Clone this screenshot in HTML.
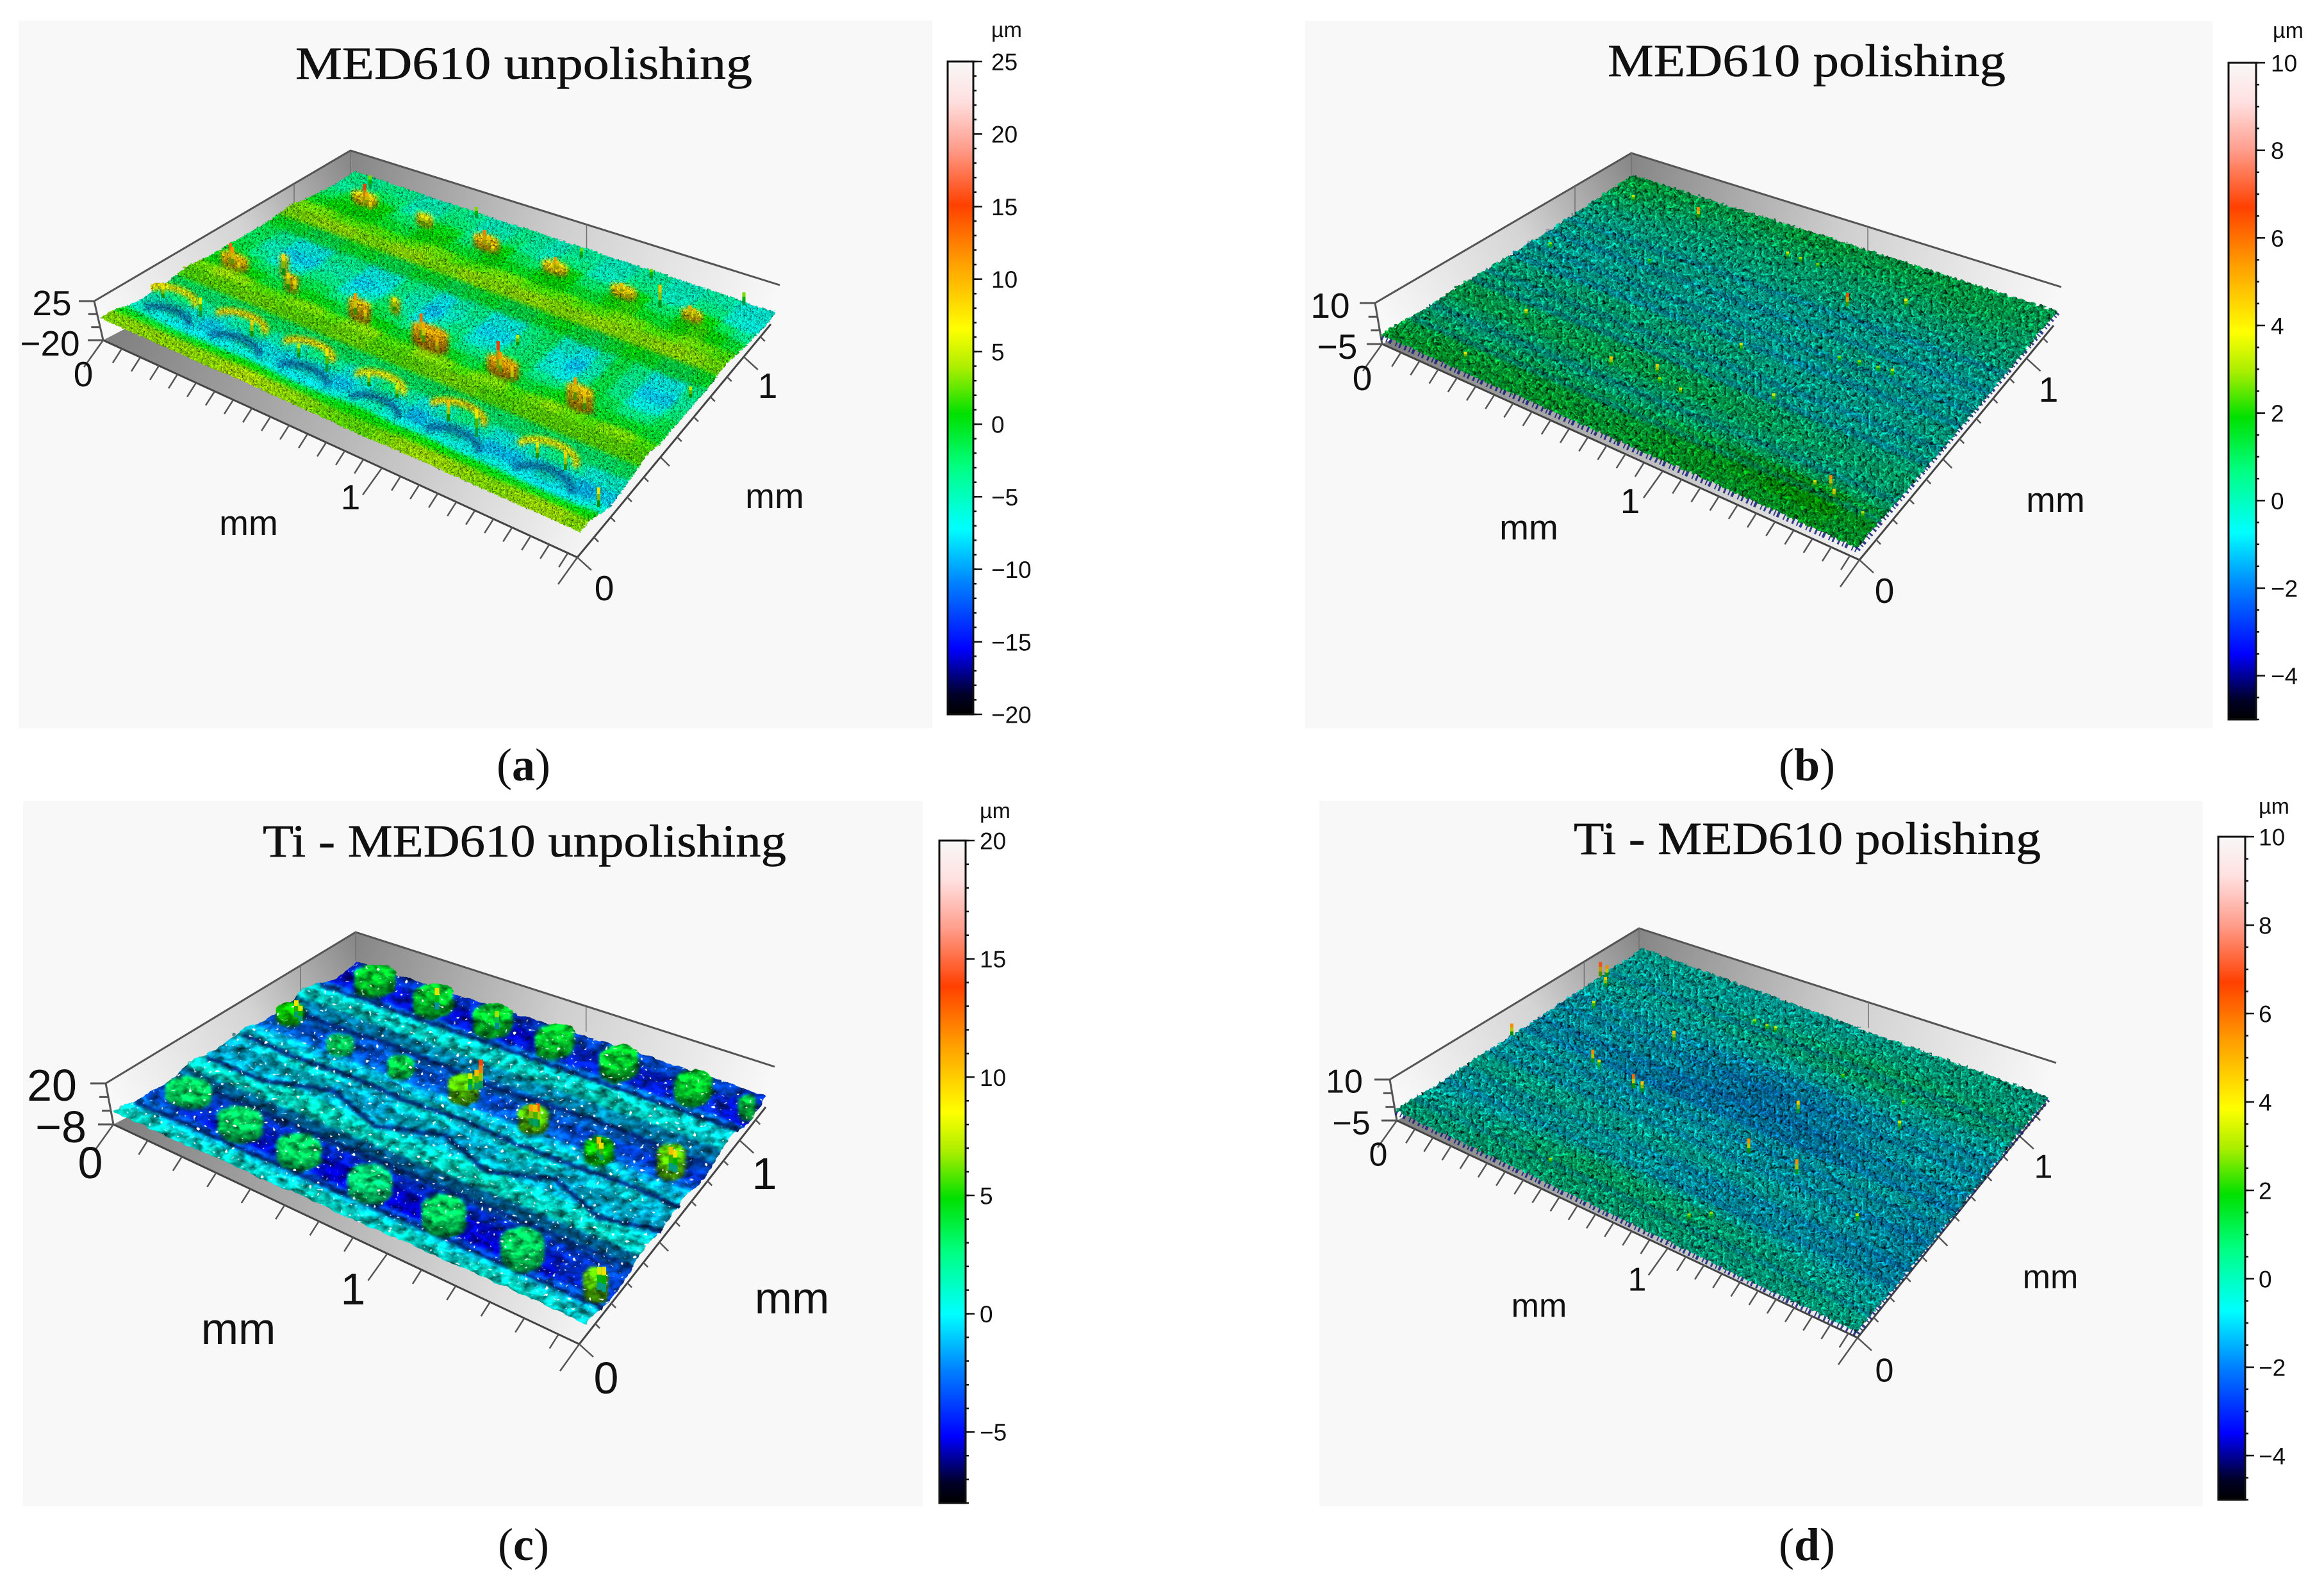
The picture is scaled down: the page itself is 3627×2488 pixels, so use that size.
<!DOCTYPE html>
<html lang="en">
<head>
<meta charset="utf-8">
<title>Surface topography of MED610 and Ti - MED610</title>
<style>
html,body{margin:0;padding:0;background:#fff;}
svg{display:block;}
text{font-family:"Liberation Sans",sans-serif;fill:#111;}
.serif{font-family:"Liberation Serif",serif;}
.ttl{stroke:#111;stroke-width:.6;}
</style>
</head>
<body>
<svg id="chart" width="3627" height="2488" viewBox="0 0 3627 2488">
<defs id="defs">
  <filter id="tex-a" filterUnits="userSpaceOnUse" x="100" y="200" width="1200" height="720" color-interpolation-filters="sRGB">
    <feGaussianBlur in="SourceGraphic" stdDeviation="3.5" result="soft"/>
    <feMerge result="base"><feMergeNode in="SourceGraphic"/><feMergeNode in="soft"/></feMerge>
    <feTurbulence type="fractalNoise" baseFrequency="0.3 0.36" numOctaves="2" seed="4" result="n"/>
    <feColorMatrix in="n" type="matrix" values="1 0 0 0 0 1 0 0 0 0 1 0 0 0 0 0 0 0 0 1" result="g"/>
    <feComposite in="base" in2="g" operator="arithmetic" k1="2.2" k2="-0.1" k3="0" k4="0" result="c"/>
    <feComposite in="c" in2="SourceAlpha" operator="in" result="d"/>
    <feDisplacementMap in="d" in2="n" scale="6" xChannelSelector="R" yChannelSelector="G"/>
  </filter>
  <filter id="tex-b" filterUnits="userSpaceOnUse" x="2100" y="200" width="1200" height="720" color-interpolation-filters="sRGB">
    <feGaussianBlur in="SourceGraphic" stdDeviation="3" result="soft"/>
    <feMerge result="base"><feMergeNode in="SourceGraphic"/><feMergeNode in="soft"/></feMerge>
    <feTurbulence type="fractalNoise" baseFrequency="0.18 0.2" numOctaves="2" seed="9" result="n"/>
    <feColorMatrix in="n" type="matrix" values="1 0 0 0 0 1 0 0 0 0 1 0 0 0 0 0 0 0 0 1" result="g"/>
    <feComposite in="base" in2="g" operator="arithmetic" k1="3" k2="-0.5" k3="0" k4="0" result="c"/>
    <feComposite in="c" in2="SourceAlpha" operator="in" result="d"/>
    <feDisplacementMap in="d" in2="n" scale="9" xChannelSelector="R" yChannelSelector="G"/>
  </filter>
  <filter id="tex-c" filterUnits="userSpaceOnUse" x="120" y="1420" width="1150" height="720" color-interpolation-filters="sRGB">
    <feGaussianBlur in="SourceGraphic" stdDeviation="2.5" result="soft"/>
    <feMerge result="base"><feMergeNode in="SourceGraphic"/><feMergeNode in="soft"/></feMerge>
    <feTurbulence type="fractalNoise" baseFrequency="0.06 0.09" numOctaves="3" seed="7" result="n"/>
    <feColorMatrix in="n" type="matrix" values="1 0 0 0 0 1 0 0 0 0 1 0 0 0 0 0 0 0 0 1" result="g"/>
    <feComposite in="base" in2="g" operator="arithmetic" k1="1.8" k2="0.1" k3="0" k4="0" result="c"/>
    <feTurbulence type="fractalNoise" baseFrequency="0.16 0.2" numOctaves="1" seed="21" result="n2"/>
    <feColorMatrix in="n2" type="matrix" values="0 0 0 0 1 0 0 0 0 1 0 0 0 0 1 14 0 0 0 -9.4" result="sparkle"/>
    <feMerge result="mix"><feMergeNode in="c"/><feMergeNode in="sparkle"/></feMerge>
    <feComposite in="mix" in2="SourceAlpha" operator="in" result="d"/>
    <feDisplacementMap in="d" in2="n" scale="6" xChannelSelector="R" yChannelSelector="G"/>
  </filter>
  <filter id="tex-d" filterUnits="userSpaceOnUse" x="2120" y="1420" width="1150" height="720" color-interpolation-filters="sRGB">
    <feGaussianBlur in="SourceGraphic" stdDeviation="3" result="soft"/>
    <feMerge result="base"><feMergeNode in="SourceGraphic"/><feMergeNode in="soft"/></feMerge>
    <feTurbulence type="fractalNoise" baseFrequency="0.18 0.2" numOctaves="2" seed="13" result="n"/>
    <feColorMatrix in="n" type="matrix" values="1 0 0 0 0 1 0 0 0 0 1 0 0 0 0 0 0 0 0 1" result="g"/>
    <feComposite in="base" in2="g" operator="arithmetic" k1="3" k2="-0.5" k3="0" k4="0" result="c"/>
    <feComposite in="c" in2="SourceAlpha" operator="in" result="d"/>
    <feDisplacementMap in="d" in2="n" scale="9" xChannelSelector="R" yChannelSelector="G"/>
  </filter>
</defs>

<rect x="29" y="32" width="1426" height="1105" fill="#f8f8f8"/>
<rect x="2037" y="33" width="1416" height="1104" fill="#f8f8f8"/>
<rect x="36" y="1250" width="1404" height="1101" fill="#f8f8f8"/>
<rect x="2059" y="1250" width="1379" height="1101" fill="#f8f8f8"/>

<g id="panel-a"></g>
<g id="panel-b"></g>
<g id="panel-c"></g>
<g id="panel-d"></g>

<text class="serif ttl" x="461" y="123" font-size="72" textLength="713" lengthAdjust="spacingAndGlyphs">MED610 unpolishing</text>
<text class="serif ttl" x="2509" y="119" font-size="72" textLength="621" lengthAdjust="spacingAndGlyphs">MED610 polishing</text>
<text class="serif ttl" x="410" y="1337" font-size="72" textLength="817" lengthAdjust="spacingAndGlyphs">Ti - MED610 unpolishing</text>
<text class="serif ttl" x="2456" y="1333" font-size="72" textLength="729" lengthAdjust="spacingAndGlyphs">Ti - MED610 polishing</text>

<text class="serif" x="817" y="1218" font-size="72" text-anchor="middle">(<tspan font-weight="bold">a</tspan>)</text>
<text class="serif" x="2820" y="1218" font-size="72" text-anchor="middle">(<tspan font-weight="bold">b</tspan>)</text>
<text class="serif" x="817" y="2435" font-size="72" text-anchor="middle">(<tspan font-weight="bold">c</tspan>)</text>
<text class="serif" x="2820" y="2435" font-size="72" text-anchor="middle">(<tspan font-weight="bold">d</tspan>)</text>
</svg>

<script>
/* ---------- DATA: colour-bar ticks ---------- */
const panelAColorTicks=[25,20,15,10,5,0,-5,-10,-15,-20];
const panelBColorTicks=[10,8,6,4,2,0,-2,-4];
const panelCColorTicks=[20,15,10,5,0,-5];
const panelDColorTicks=[10,8,6,4,2,0,-2,-4];
const panelARange=[-20,25];
const panelBRange=[-5,10];
const panelCRange=[-8,20];
const panelDRange=[-5,10];
const panelAZLabels=[25,-20];
const panelBZLabels=[10,-5];
const panelCZLabels=[20,-8];
const panelDZLabels=[10,-5];
const xAxisLabels=[0,1];
const yAxisLabels=[0,1];

/* ---------- DATA: surface heights in µm, rows run from front-left edge to back-right edge ---------- */
const panelAHeights=[
[3,3,3,3,3,3,3,4,4,3,3,3,3,2,2,3,3,4,3,3,3,3,3,4,3,3],
[3,4,4,4,4,4,4,5,4,4,4,3,2,3,3,4,4,4,4,4,3,4,4,4,4,3],
[-3,-4,-5,-5,-4,-4,-3,-3,-4,-5,-4,-3,-1,-1,-3,-2,-2,-3,-3,-3,-3,-4,-4,-4,-3,-2],
[-7,-8,-9,-10,-10,-9,-9,-10,-10,-10,-10,-9,-8,-9,-10,-10,-10,-10,-10,-9,-10,-11,-11,-11,-10,-8],
[-5,-1,-1,-6,-7,-1,-2,-8,-3,-1,-6,-9,-1,-1,-7,-9,-2,-1,-7,-9,-7,-1,-1,-6,-9,-6],
[-4,-4,-5,-5,-5,-4,-4,-5,-5,-4,-5,-5,-4,-5,-5,-5,-4,-5,-5,-5,-4,-5,-5,-5,-5,-3],
[0,0,0,0,1,0,0,0,0,1,0,0,0,0,1,1,0,0,0,0,0,0,0,0,0,0],
[4,5,5,5,5,5,5,5,5,5,5,4,5,5,5,5,5,4,5,5,5,5,5,5,5,4],
[0,2,3,0,-1,0,2,0,-1,3,0,-1,1,3,-1,-1,3,0,-1,2,1,-1,0,2,0,-1],
[-1,0,0,-1,-2,0,-1,-1,-2,0,-1,0,-1,-1,-2,-1,0,-1,-2,0,-1,0,-1,-2,-1,-1],
[0,-1,-3,-5,-3,-1,-4,-6,-2,-1,-6,-6,-1,-4,-6,-3,-1,-4,-6,-5,-1,-1,-4,-6,-3,-1],
[-1,-3,-7,-9,-7,-2,-7,-9,-5,-2,-8,-9,-2,-6,-9,-6,-1,-4,-9,-8,-2,-1,-7,-9,-7,-1],
[-1,-3,-7,-10,-7,-2,-7,-10,-5,-2,-8,-10,-2,-7,-10,-6,-1,-4,-10,-8,-2,-1,-7,-10,-7,-1],
[-1,-2,-4,-6,-4,-1,-4,-6,-4,-1,-5,-6,-1,-4,-6,-4,-1,-2,-6,-5,-1,-1,-4,-6,-4,-1],
[1,1,2,2,2,1,2,2,2,1,2,2,1,2,2,2,1,2,2,2,1,2,2,2,2,1],
[5,5,5,5,5,4,5,5,5,4,5,5,5,5,5,5,5,5,5,5,5,5,5,5,4,4],
[0,1,0,-2,0,0,-2,0,1,0,-2,0,1,0,-2,0,0,-2,0,1,0,-2,0,1,0,0],
[-2,0,2,3,1,-3,1,3,0,-3,3,2,-3,1,4,1,-3,2,4,1,-3,2,4,2,0,-3],
[-4,-3,0,1,-2,-5,-3,0,-3,-5,-1,-1,-5,-3,0,-3,-5,-3,0,-3,-5,-3,0,-3,-6,-5],
[-4,-5,-5,-2,-6,-7,-5,-2,-6,-7,-5,-3,-7,-6,-3,-6,-7,-6,-3,-6,-7,-6,-3,-6,-8,-7],
[-2,-2,-3,-3,-3,-4,-3,-3,-4,-4,-3,-3,-4,-4,-3,-4,-4,-4,-3,-4,-4,-4,-4,-5,-6,-4]
];
const panelBHeights=[
[1.2,1.3,1.2,1.1,1.3,1.3,1.2,1.2,1.4,1.3,1.2,1.3,1.2,1.0],
[1.2,1.3,1.4,1.3,1.4,1.2,1.3,1.4,1.5,1.4,1.5,1.6,1.8,1.2],
[1.0,.9,1.1,1.0,1.2,1.1,1,1.2,1.3,1.5,1.7,1.9,1.7,1.0],
[.7,.5,.6,.8,.7,.6,.7,.9,1,1,1.1,1.2,1,.8],
[.5,.3,.2,.3,.4,.2,.3,.2,.3,.4,.3,.2,.3,.5],
[.9,.7,.8,.9,.8,.9,.8,.9,.8,.7,.6,.5,.5,.6],
[1.1,1,1.1,.9,1,1.1,1,1,.9,.8,.7,.6,.5,.6],
[.8,.6,.5,.6,.7,.6,.7,.6,.5,.4,.3,.2,.2,.4],
[.4,.2,.1,.2,.1,.2,.1,0,.1,-.1,-.1,0,0,.2],
[.5,.6,.7,.8,.7,.6,.5,.5,.3,.2,.1,.1,.2,.3],
[.3,.2,.1,.3,.2,.3,.4,.2,.1,0,.1,0,.1,.2],
[.1,-.1,.1,0,-.1,0,.1,-.1,-.2,-.1,0,-.1,0,.1],
[.3,.2,.1,.3,.3,.2,.1,.2,.3,.4,.5,.2,0,.1],
[0,-.2,-.1,0,-.1,-.1,-.2,-.1,0,0,-.1,-.2,-.2,0],
[.3,.1,.2,.3,.4,.3,.2,.1,.1,.2,.1,0,0,.1],
[.3,.1,.2,.1,0,.1,0,.1,0,-.1,0,.1,.2,.2],
[.2,.1,.2,.3,.3,.4,.5,.6,.5,.4,.3,.3,.4,.5],
[.6,.5,.4,.3,.4,.4,.3,.3,.4,.5,.6,.6,.5,.4],
[.9,.8,.7,.6,.5,.6,.7,.8,.7,.7,.8,.9,.8,.7],
[1.1,1,.9,.8,.9,1,1.1,1,.9,1,1,1,.9,.8],
[1.2,1.1,1.1,1,1,1.1,1.2,1.1,1,1.1,1,1,.9,.9]
];
const panelCHeights=[
[1,1,.5,1,1,.5,1,1,.5,1,1,.5,1,1,1,.5,.5],
[1,1.5,1,1,1.5,1,1,1.5,1,1,1.5,1,1,1.5,1,1,.5],
[-1,-1,-1.5,-1,-1,-1.5,-1,-1.5,-1,-1.5,-1,-1,-1.5,-1,-1,-1,-1],
[-2,-3,-3.5,-4,-4,-3.5,-4,-4,-4,-4,-4,-4,-4,-4,-4,-3,-3],
[-2,-3,-4,-4.5,-4.5,-4,-5,-5,-5,-5,-5,-5,-5,-5,-4,-3,-3],
[-2,-2.5,-3,-3,-3.5,-3.5,-4,-4,-3.5,-4,-4,-3.5,-3.5,-3.5,-3,-3,-2],
[-2,-3,-3,-3,-3,-3,-3,-3.5,-3,-3,-3,-3,-3,-3,-3,-3,-2],
[1,1,1,1,1,1,1,1,1,1,1,1,1,1,1,1,.5],
[1.5,1.5,1.5,1.5,2,2,1.5,1.5,1.5,1.5,2,2,1.5,1.5,1.5,1.5,1],
[0,.5,.5,1,1,.5,.5,.5,.5,1,1,.5,.5,.5,.5,.5,0],
[-1,-.5,-1,-.5,-.5,-1,-1,-.5,-1,-1,-.5,-.5,-1,-.5,-1,-.5,-1],
[0,.5,1,1.5,.5,0,.5,1.5,.5,0,1,1.5,.5,0,1,.5,0],
[-.5,0,.5,1,0,-.5,0,1,0,-.5,.5,1,0,-.5,.5,0,-.5],
[1,1,.5,.5,1,1,.5,.5,1,1,.5,.5,1,1,.5,.5,.5],
[-1.5,-1,-1.5,-1.5,-1,-1.5,-1.5,-1,-1.5,-1.5,-1,-1.5,-1.5,-1,-1.5,-1.5,-1],
[-2.5,-2.5,-3,-2.5,-3,-2.5,-3,-2.5,-3,-3,-2.5,-3,-3,-3,-3,-3.5,-3],
[-2.5,-2,-2,-2.5,-2,-2,-2.5,-2,-2,-2.5,-2,-2,-2.5,-2.5,-3,-3,-3],
[-2,-1.5,-1.5,-2,-2,-1,-1.5,-2,-1,-1,-1.5,-1.5,-1,-1.5,-2,-2,-2],
[.5,.5,.5,.5,.5,1,.5,.5,1,.5,.5,.5,.5,.5,.5,.5,0],
[1.5,1.5,1.5,1.5,1.5,1.5,1.5,1.5,1.5,1.5,1.5,2,2,1.5,1.5,1,1],
[0,0,.5,0,0,.5,0,0,.5,0,0,.5,0,0,.5,0,0],
[-3,-3,-3.5,-3.5,-3,-3,-3.5,-3,-3,-3,-3,-3,-3,-3,-3,-3,-4],
[-5,-4.5,-4.5,-4.5,-5,-4.5,-4.5,-5,-4.5,-4.5,-4,-4.5,-4.5,-4.5,-4,-4,-5],
[-4,-4,-3.5,-3.5,-4,-3.5,-4,-4,-3.5,-3,-3,-3,-3,-3,-3,-3,-4],
[-3,-3,-2.5,-2.5,-3,-2.5,-3,-2.5,-2,-2.5,-2,-2,-2,-2,-2,-2.5,-3]
];
const panelDHeights=[
[.6,.5,.6,.5,.7,.6,.5,.6,.5,.4,.3,.4,.5,.4],
[.7,.6,.8,.9,1,.9,.8,.8,.7,.6,.6,.6,.5,.4],
[.3,.4,.6,.9,1.1,1.1,.9,1,.9,.7,.5,.4,.2,.1],
[-.1,0,.1,.4,.8,.9,.8,.7,.6,.4,.3,.2,0,-.1],
[-.3,-.2,-.2,-.1,0,.1,-.1,-.2,-.2,-.3,-.3,-.4,-.4,-.5],
[.1,.2,.1,.2,0,-.1,-.4,-.7,-.6,-.5,-.4,-.5,-.6,-.6],
[.4,.5,.5,.4,.3,.3,.2,.1,.1,0,-.2,-.3,-.5,-.5],
[.2,.3,.2,.2,.1,.1,.2,.1,.1,0,0,-.2,-.4,-.4],
[-.3,-.2,-.2,-.3,-.3,-.2,-.2,-.3,-.4,-.5,-.5,-.6,-.8,-.8],
[0,.1,0,-.1,-.1,-.2,-.1,-.2,-.2,-.1,0,.1,0,-.3],
[-.2,-.2,-.3,-.4,-.5,-.5,-.4,-.4,-.5,-.4,-.3,-.2,-.3,-.5],
[-.5,-.6,-.7,-.8,-.9,-1,-.9,-.9,-.9,-.8,-.7,-.6,-.7,-.7],
[-.1,-.2,-.2,-.3,-.4,-.6,-.7,-.7,-.6,-.5,-.2,0,.1,-.1],
[-.4,-.3,-.3,-.4,-.6,-.8,-1,-1,-.8,-.6,-.4,-.3,-.4,-.5],
[-.1,0,0,-.1,-.2,-.4,-.5,-.6,-.5,-.3,-.1,-.1,-.1,-.2],
[-.2,-.3,-.2,-.2,-.3,-.2,-.3,-.3,-.2,-.1,-.1,-.2,-.2,-.3],
[.2,.1,.1,.1,.2,.3,.4,.5,.6,.5,.4,.3,.3,.2],
[.3,.2,.2,.3,.5,.7,.9,1,1.2,1.2,1.1,1,.9,.7],
[0,-.1,0,.1,.2,.4,.5,.7,.9,.8,.7,.6,.6,.5],
[0,0,.1,0,-.1,0,.1,.2,.3,.4,.4,.5,.4,.3],
[.4,.3,.3,.2,.1,.2,.1,.2,.3,.4,.5,.6,.5,.5]
];

/* ---------- DATA: faint scan stripes seen on the polished surfaces (position across the scan) ---------- */
const panelBStripeY=[.12,.2,.36,.42,.52,.58,.66,.74];
const panelDStripeY=[.08,.2,.27,.38,.45,.52,.58,.66,.72,.86];

/* ---------- DATA: isolated peaks (position along the two axes as a fraction of the scan, height in µm) ---------- */
const panelAPeakX=[.045,.05,.075,.175,.195,.32,.35,.46,.47,.51,.63,.64,.675,.80,.83,
.135,.37,.095,.10,.105,.125,.235,.245,.38,.39,.41,.545,.55,.70,.72,.86,.87,.785,
.0,.06,.3,.56,.72,.93,.985,.99,.45,.62,.03,.11,.22,.32,.38,.47,.53,.64,.70,.83,.89];
const panelAPeakY=[.43,.43,.41,.425,.415,.43,.415,.44,.43,.41,.44,.43,.41,.44,.42,
.48,.5,.88,.87,.87,.85,.87,.87,.87,.87,.85,.87,.87,.87,.86,.87,.87,.88,
.33,.96,.98,.96,.97,.99,.6,.12,.7,.55,.19,.19,.19,.19,.19,.19,.19,.19,.19,.19,.19];
const panelAPeakZ=[13,11,8,8,8,11,9,13,10,10,15,11,9,11,9,
8,7,9,15,10,8,7,6,12,9,7,11,9,9,8,10,9,9,
5,3,3,3,3,3,5,7,4,5,7,6,8,5,7,6,6,9,7,7,8];
const panelBPeakX=[.62,.2,.06,.525,.43,.46,.5,.7,.74,.78,.81,.15,.36,.15,.51,.46,.44,.66,.9,.855,.88,.97,.72,.04,.22];
const panelBPeakY=[.78,.92,.9,.49,.88,.88,.88,.58,.59,.595,.6,.3,.25,.05,.25,.26,.29,.36,.12,.13,.15,.1,.85,.6,.68];
const panelBPeakZ=[6.5,5.5,3.5,3.5,3.5,3,2.8,2.6,2.8,2.8,3.2,4,4.5,4,3.5,3,4.5,3.5,4.5,3.6,5.5,3.2,4,2.8,2.4];
const panelCPeakX=[.47,.475,.47,.46,.625,.64,.63,.79,.80,.93,.94,.98,.97,.235,.38,.04,.055];
const panelCPeakY=[.68,.67,.66,.65,.6,.6,.61,.58,.57,.64,.64,.15,.15,.93,.93,.68,.67];
const panelCPeakZ=[14,12,10,8,11,13,10,10,9,10,9,9,8,9,7,9,8];
const panelDPeakX=[0,.01,.03,0,.06,.17,.19,.28,.3,.25,.57,.58,.68,.78,.35,.38,.4,.6,.75,.59,.62,.3,.85];
const panelDPeakY=[.83,.84,.8,.47,.7,.5,.49,.47,.47,.7,.42,.63,.42,.71,.87,.87,.87,.8,.79,.1,.14,.07,.35];
const panelDPeakZ=[7,5.5,4.5,5.5,3.5,5.5,3.5,6,4.5,4.5,5.5,4.5,5.5,3.5,3,3,3.5,2.6,2.6,3,3,3,3];

/* ---------- DATA: panel (a) raised blobs and crescent rims ---------- */
const panelABlobX=[.06,.185,.335,.49,.65,.82,.10,.24,.39,.55,.71,.87,.137,.375];
const panelABlobY=[.42,.42,.42,.42,.42,.42,.87,.87,.86,.86,.86,.86,.48,.495];
const panelABlobZ=[9,9,9,10,10,9,8,7,9,8,8,8,7,7];
const panelABlobRadius=[.03,.016,.025,.04,.035,.03,.03,.02,.03,.03,.03,.025,.012,.012];
const panelAArcX=[.06,.204,.348,.50,.666,.858];
const panelAArcY=[.2,.2,.2,.2,.2,.2];
const panelAArcZ=[4,5,5,4,5,4];
const panelAArcRadius=[.045,.05,.05,.05,.055,.06];

/* ---------- DATA: panel (c) mesas and groove traces ---------- */
const panelCMoundX=[.057,.184,.316,.47,.63,.80,.97,.036,.175,.315,.46,.63,.79,.93,.085,.226,.37,.52,.675,.855,.985];
const panelCMoundY=[.2,.17,.16,.16,.16,.16,.13,.66,.62,.62,.62,.6,.58,.64,.93,.93,.93,.93,.93,.93,.93];
const panelCMoundZ=[3,3,3,2.5,3,3,6,5,3,3.5,6,6,5,6,4,4,4,4,4,4,3.5];
const panelCMoundRadius=[.042,.042,.042,.042,.042,.042,.024,.026,.026,.026,.03,.03,.03,.03,.04,.04,.04,.04,.04,.04,.018];
const panelCGrooves=[
[.09,.09,.09,.09,.09,.09,.09,.09,.09],
[.26,.26,.26,.26,.26,.26,.26,.26,.26],
[.38,.38,.45,.38,.45,.38,.45,.38,.42],
[.53,.52,.53,.52,.53,.52,.52,.53,.52],
[.7,.7,.71,.7,.69,.7,.71,.7,.7],
[.85,.85,.85,.85,.85,.85,.85,.85,.85]
];
const panelCBeadRows=[.03,.31,.49,.78];

/* ---------- LAYOUT (pixel geometry, kept apart from data) ---------- */
const colorStops=[[0,0,0,0],[.03,0,0,40],[.10,0,0,255],[.2,0,128,255],[.285,0,255,255],[.38,0,255,128],[.46,0,224,0],[.53,170,238,0],[.59,255,255,0],[.69,255,160,0],[.78,255,64,0],[.87,255,160,144],[.94,255,224,224],[1,248,248,248]];
const layoutA={key:'a',surf:{L:[157,499],B:[554,266],R:[1210,483],F:[905,834]},box:{Lt:[147,470],Bt:[547,235],Rt:[1217,445],Lb:[161,531],F:[901,870],Rb:[1203,506]},zPx:2.2,zRef:0,relief:.55,peakGain:1.4,colorGain:1,colorShift:0,shade:.86,slope:.015,bar:5,moundAspect:.55,
 cb:{x0:1479,x1:1519,y0:96,y1:1115,lx:1547,minor:1,uy:58,ux:1547},font:55,zl:[[81,472],[78,535]],xl:[[130,583],[547,775]],yl:[[943,917],[1198,601]],mm:[[388,815],[1209,773]],ticksPerMm:15,xFrac:.588,yFrac:.86,skirt:0};
const layoutB={key:'b',surf:{L:[2157,525],B:[2548,276],R:[3210,487],F:[2898,857]},box:{Lt:[2146,473],Bt:[2546,239],Rt:[3217,448],Lb:[2157,537],F:[2902,874],Rb:[3205,508]},zPx:4.2,zRef:.5,relief:1,peakGain:1,colorGain:1.3,colorShift:-.45,shade:.56,slope:.02,bar:5,moundAspect:1.35,
 cb:{x0:3478,x1:3521,y0:98,y1:1123,lx:3544,minor:.5,uy:59,ux:3547},font:55,zl:[[2076,476],[2087,540]],xl:[[2126,589],[2544,781]],yl:[[2941,921],[3197,607]],mm:[[2386,822],[3208,779]],ticksPerMm:15,xFrac:.588,yFrac:.86,skirt:1};
const layoutC={key:'c',surf:{L:[178,1740],B:[557,1498],R:[1195,1707],F:[915,2071]},box:{Lt:[165,1691],Bt:[555,1455],Rt:[1209,1665],Lb:[177,1755],F:[904,2098],Rb:[1195,1728]},zPx:3,zRef:-1,relief:1,peakGain:1,colorGain:1,colorShift:-.7,shade:.78,slope:.085,bar:7,moundAspect:1.35,
 cb:{x0:1466,x1:1507,y0:1312,y1:2346,lx:1529,minor:1,uy:1277,ux:1529},font:70,zl:[[81,1693],[95,1758]],xl:[[141,1814],[551,2011]],yl:[[946,2150],[1193,1831]],mm:[[372,2073],[1236,2025]],ticksPerMm:8,xFrac:.588,yFrac:.86,skirt:0};
const layoutD={key:'d',surf:{L:[2179,1735],B:[2563,1482],R:[3196,1714],F:[2897,2080]},box:{Lt:[2169,1685],Bt:[2558,1449],Rt:[3209,1659],Lb:[2180,1749],F:[2899,2088],Rb:[3193,1722]},zPx:4.2,zRef:0,relief:1,peakGain:1,colorGain:1,colorShift:-.6,shade:.56,slope:.02,bar:5,moundAspect:1.35,
 cb:{x0:3462,x1:3504,y0:1306,y1:2341,lx:3525,minor:.5,uy:1270,ux:3525},font:52,zl:[[2098,1687],[2109,1752]],xl:[[2151,1801],[2555,1996]],yl:[[2941,2138],[3189,1820]],mm:[[2402,2037],[3200,1992]],ticksPerMm:15,xFrac:.588,yFrac:.86,skirt:1};

const svg=document.getElementById('chart');
const NS=svg.namespaceURI;
const defs=document.getElementById('defs');
function mk(tag,attrs,parent){
  const e=document.createElementNS(NS,tag);
  for(const k in attrs)e.setAttribute(k,attrs[k]);
  parent.appendChild(e);
  return e;
}
function colormap(t){
  t=Math.max(0,Math.min(1,t));
  for(let i=1;i<colorStops.length;i++){
    if(t<=colorStops[i][0]){
      const p=colorStops[i-1],q=colorStops[i],f=(t-p[0])/(q[0]-p[0]);
      return [p[1]+(q[1]-p[1])*f,p[2]+(q[2]-p[2])*f,p[3]+(q[3]-p[3])*f];
    }
  }
  return colorStops[colorStops.length-1].slice(1);
}
function css(c,s){
  return 'rgb('+c.map(v=>Math.round(Math.max(0,Math.min(255,v*s)))).join(',')+')';
}
function project(g,a,b,z){
  const s=g.surf;
  const x=(1-a)*(1-b)*s.L[0]+a*(1-b)*s.F[0]+a*b*s.R[0]+(1-a)*b*s.B[0];
  const y=(1-a)*(1-b)*s.L[1]+a*(1-b)*s.F[1]+a*b*s.R[1]+(1-a)*b*s.B[1];
  return [x,y-g.zPx*(z-g.zRef)*(.8+.35*a*(1-b))];
}
function surfaceZ(g,z){return g.zRef+(z-g.zRef)*g.relief;}
function heightAt(grid,a,b){
  const i=Math.round(b*(grid.length-1)),j=Math.round(Math.max(0,Math.min(1,a))*(grid[0].length-1));
  return grid[i][j];
}
function lerp(p,q,f){return [p[0]+(q[0]-p[0])*f,p[1]+(q[1]-p[1])*f];}
function pts(list){return list.map(p=>p[0].toFixed(1)+','+p[1].toFixed(1)).join(' ');}
function fmt(v){return String(v).replace('-','\u2212');}

function gradient(id,p,q,stops){
  const gr=mk('linearGradient',{id:id,gradientUnits:'userSpaceOnUse',x1:p[0],y1:p[1],x2:q[0],y2:q[1]},defs);
  stops.forEach(s=>mk('stop',{offset:s[0],'stop-color':s[1]},gr));
}

function drawBox(root,g){
  const b=g.box,s=g.surf,k=g.key;
  const wallL=[s.L[0],s.L[1]+30],wallB=[s.B[0],s.B[1]+60],wallR=[s.R[0],s.R[1]+30];
  gradient('wall-l-'+k,b.Bt,b.Lt,[[0,'#858585'],[.45,'#d4d4d4'],[1,'#f8f8f8']]);
  gradient('wall-r-'+k,b.Bt,b.Rt,[[0,'#858585'],[.5,'#cfcfcf'],[1,'#f8f8f8']]);
  gradient('floor-'+k,b.Lb,b.F,[[0,'#7f7f7f'],[.5,'#b8b8b8'],[1,'#f4f4f4']]);
  const wl=mk('polygon',{points:pts([b.Lt,b.Bt,wallB,wallL]),fill:'url(#wall-l-'+k+')'},root);
  
  
  const wr=mk('polygon',{points:pts([b.Bt,b.Rt,wallR,wallB]),fill:'url(#wall-r-'+k+')'},root);
  
  
  const fl=mk('polygon',{points:pts([b.Lb,b.F,b.Rb,wallB]),fill:'url(#floor-'+k+')'},root);
  
  
  const back=mk('polyline',{points:pts([b.Lt,b.Bt,b.Rt]),fill:'none',stroke:'#555',"stroke-width":3},root);
  
  
  [[b.Bt,[b.Bt[0],b.Bt[1]+45]],[lerp(b.Lt,b.Bt,.78),[lerp(b.Lt,b.Bt,.78)[0],lerp(b.Lt,b.Bt,.78)[1]+45]],[lerp(b.Bt,b.Rt,.55),[lerp(b.Bt,b.Rt,.55)[0],lerp(b.Bt,b.Rt,.55)[1]+40]]].forEach(v=>{
    const ln=mk('line',{x1:v[0][0],y1:v[0][1],x2:v[1][0],y2:v[1][1],stroke:'#707070','stroke-width':1.5},root);
    
    
  });
}

function drawAxes(root,g){
  const b=g.box;
  const axis=mk('polyline',{points:pts([b.Lb,b.F,b.Rb]),fill:'none',stroke:'#444',"stroke-width":3},root);
  
  
  const z=mk('line',{x1:b.Lt[0],y1:b.Lt[1],x2:b.Lb[0],y2:b.Lb[1],stroke:'#555','stroke-width':3},root);
  
  
  for(let n=0;n<=3;n++){
    const p=lerp(b.Lt,b.Lb,n/3),len=(n%3===0)?24:14;
    const t=mk('line',{x1:p[0],y1:p[1],x2:p[0]-len,y2:p[1],stroke:'#555','stroke-width':3},root);
    
    
  }
  /* x axis ticks */
  const total=Math.floor(g.ticksPerMm/g.xFrac);
  for(let n=0;n<=total;n++){
    const f=n/g.ticksPerMm*g.xFrac,p=lerp(b.Lb,b.F,f);
    const major=(n%g.ticksPerMm===0);
    const t=mk('line',{x1:p[0],y1:p[1],x2:p[0]-(major?30:14),y2:p[1]+(major?42:22),stroke:'#555','stroke-width':2.5},root);
    
    
  }
  const end=mk('line',{x1:b.F[0],y1:b.F[1],x2:b.F[0]-30,y2:b.F[1]+42,stroke:'#555','stroke-width':2.5},root);
  
  
  /* y axis ticks */
  for(let n=0;n<=11;n++){
    const f=n/10*g.yFrac,p=lerp(b.F,b.Rb,f);
    const major=(n%10===0),mid=(n===5);
    const d=major?[22,20]:(mid?[14,14]:[7,7]);
    const t=mk('line',{x1:p[0],y1:p[1],x2:p[0]+d[0],y2:p[1]+d[1],stroke:'#555','stroke-width':2.5},root);
    
    
  }
}

function drawLabels(root,g,zLabels){
  const f=g.font;
  function put(pos,str,name){
    const t=mk('text',{x:pos[0],y:pos[1]+f*.36,'font-size':f,'text-anchor':'middle'},root);
    t.textContent=str;
    
    
  }
  zLabels.forEach((v,i)=>put(g.zl[i],fmt(v),'z-axis-label'));
  xAxisLabels.forEach((v,i)=>put(g.xl[i],fmt(v),'x-axis-label'));
  yAxisLabels.forEach((v,i)=>put(g.yl[i],fmt(v),'y-axis-label'));
  put(g.mm[0],'mm','x-axis-title');
  put(g.mm[1],'mm','y-axis-title');
}

function drawSkirt(root,g){
  if(!g.skirt)return;
  const s=g.surf;
  [[s.L,s.F],[s.F,s.R]].forEach(e=>{
    const sk=mk('line',{x1:e[0][0],y1:e[0][1],x2:e[1][0],y2:e[1][1],stroke:'#101a78','stroke-width':11,'stroke-opacity':.85,'stroke-dasharray':'3 5 2 3 4 7 2 4 3 6'},root);
    
    
  });
}

function drawSurface(root,g,grid,range){
  const nr=grid.length,nc=grid[0].length;
  const zt=v=>(v*g.colorGain+g.colorShift-range[0])/(range[1]-range[0]);
  for(let i=nr-2;i>=0;i--){
    for(let j=0;j<nc-1;j++){
      const a0=j/(nc-1),a1=(j+1)/(nc-1),b0=i/(nr-1),b1=(i+1)/(nr-1);
      const z00=grid[i][j],z01=grid[i][j+1],z10=grid[i+1][j],z11=grid[i+1][j+1];
      const avg=(z00+z01+z10+z11)/4;
      const grad=((z10+z11)-(z00+z01))/2;
      const lit=Math.max(.45,Math.min(1.25,1-g.slope*grad));
      const col=css(colormap(zt(avg)),g.shade*lit);
      const cell=mk('polygon',{points:pts([project(g,a0,b0,surfaceZ(g,z00)),project(g,a1,b0,surfaceZ(g,z01)),project(g,a1,b1,surfaceZ(g,z11)),project(g,a0,b1,surfaceZ(g,z10))]),fill:col,stroke:col,'stroke-width':1.5},root);
      
      
    }
  }
}

function drawStripes(root,g,stripes){
  stripes.forEach(b=>{
    const list=[project(g,0,b,g.zRef),project(g,1,b,g.zRef)];
    const pl=mk('polyline',{points:pts(list),fill:'none',stroke:'#0838a0','stroke-width':8,'stroke-opacity':.3},root);
    
    
  });
}

function drawPeaks(root,g,grid,range,xs,ys,zs){
  const zt=v=>(v-range[0])/(range[1]-range[0]);
  xs.forEach((a,n)=>{
    const z0=heightAt(grid,a,ys[n]),z1=zs[n];
    const base=surfaceZ(g,z0);
    for(let k=0;k<3;k++){
      const lo=base+(z1-z0)*g.peakGain*k/3,hi=base+(z1-z0)*g.peakGain*(k+1)/3;
      const levelZ=z0+(z1-z0)*(k+1)/3;
      const p=project(g,a,ys[n],lo),q=project(g,a,ys[n],hi);
      const ln=mk('line',{x1:p[0],y1:p[1],x2:q[0],y2:q[1],stroke:css(colormap(zt(levelZ)),.62+.16*k),'stroke-width':g.bar},root);
      
      
    }
  });
}

function ellipsePoints(g,a,b,r,z){
  const out=[];
  for(let k=0;k<16;k++){
    const th=k/16*Math.PI*2;
    out.push(project(g,a+r*Math.cos(th),b+r*g.moundAspect*Math.sin(th),z));
  }
  return out;
}
function drawMounds(root,g,grid,range,xs,ys,zs,rs){
  const zt=v=>(v-range[0])/(range[1]-range[0]);
  const order=xs.map((v,i)=>i).sort((p,q)=>ys[q]-ys[p]);
  order.forEach(n=>{
    const a=xs[n],b=ys[n],r=rs[n],z0=heightAt(grid,a,b),z1=zs[n];
    const base=surfaceZ(g,z0);
    for(let k=0;k<=6;k++){
      const z=base+(z1-z0)*g.peakGain*k/6;
      const top=(k===6);
      const el=mk('polygon',{points:pts(ellipsePoints(g,a,b,r,z)),fill:css(colormap(zt(z1)),top?.88:.45+.05*k)},root);
      
      
    }
  });
}
function drawArcs(root,g,range,xs,ys,zs,rs){
  const zt=v=>(v-range[0])/(range[1]-range[0]);
  xs.forEach((a,n)=>{
    const rim=[],shadow=[];
    for(let k=0;k<=10;k++){
      const th=Math.PI*k/10;
      const pa=a+rs[n]*Math.cos(th),pb=ys[n]+rs[n]*.9*Math.sin(th)-.03;
      rim.push(project(g,pa,pb,zs[n]*2));
      shadow.push(project(g,pa,pb-.025,-6));
    }
    const sh=mk('polyline',{points:pts(shadow),fill:'none',stroke:'#0a4a88','stroke-width':11,'stroke-opacity':.75},root);
    
    
    const ri=mk('polyline',{points:pts(rim),fill:'none',stroke:css(colormap(zt(zs[n]+3)),.82),'stroke-width':11},root);
    
    
  });
}
function drawGrooves(root,g,grooves,beads){
  beads.forEach(b=>{
    const list=[];
    for(let n=0;n<=20;n++)list.push(project(g,n/20,b,1.5));
    const pl=mk('polyline',{points:pts(list),fill:'none',stroke:'#35c8cc','stroke-width':6,'stroke-linecap':'round','stroke-dasharray':'0 20','stroke-opacity':.7},root);
    
    
  });
  grooves.forEach(tr=>{
    const list=tr.map((b,n)=>project(g,n/(tr.length-1),b,-2));
    const pl=mk('polyline',{points:pts(list),fill:'none',stroke:'#03206a','stroke-width':7,'stroke-linejoin':'round'},root);
    
    
  });
}

function drawColorbar(root,g,range,ticks){
  const c=g.cb,k=g.key;
  const gr=mk('linearGradient',{id:'cb-'+k,x1:0,y1:1,x2:0,y2:0},defs);
  colorStops.forEach(s=>mk('stop',{offset:s[0],'stop-color':css([s[1],s[2],s[3]],1)},gr));
  const cbY=v=>c.y1-(v-range[0])/(range[1]-range[0])*(c.y1-c.y0);
  const bar=mk('rect',{x:c.x0,y:c.y0,width:c.x1-c.x0,height:c.y1-c.y0,fill:'url(#cb-'+k+')',stroke:'#111','stroke-width':3},root);
  
  
  for(let v=range[0];v<=range[1]+1e-6;v+=c.minor){
    const y=cbY(v);
    const m=mk('line',{x1:c.x1,y1:y,x2:c.x1+5,y2:y,stroke:'#111','stroke-width':2.5},root);
    
    
  }
  ticks.forEach(v=>{
    const y=cbY(v);
    const m=mk('line',{x1:c.x1,y1:y,x2:c.x1+14,y2:y,stroke:'#111','stroke-width':2.5},root);
    
    
    const t=mk('text',{x:c.lx,y:y+13.5,'font-size':37},root);
    t.textContent=fmt(v);
    
    
  });
  const u=mk('text',{x:c.ux,y:c.uy,'font-size':34},root);
  u.textContent='\u00b5m';
  
  
}

function drawPanel(g,grid,range,ticks,zLabels,peaks,extras){
  const root=document.getElementById('panel-'+g.key);
  drawBox(root,g);
  drawAxes(root,g);
  drawSkirt(root,g);
  const tex=mk('g',{filter:'url(#tex-'+g.key+')'},root);
  
  
  drawSurface(tex,g,grid,range);
  if(extras.stripes)drawStripes(tex,g,extras.stripes);
  if(extras.grooves)drawGrooves(tex,g,extras.grooves,panelCBeadRows);
  if(extras.arcs)drawArcs(tex,g,range,extras.arcs[0],extras.arcs[1],extras.arcs[2],extras.arcs[3]);
  if(extras.mounds)drawMounds(tex,g,grid,range,extras.mounds[0],extras.mounds[1],extras.mounds[2],extras.mounds[3]);
  const pk=mk('g',{},root);
  
  
  drawPeaks(pk,g,grid,range,peaks[0],peaks[1],peaks[2]);
  drawLabels(root,g,zLabels);
  drawColorbar(root,g,range,ticks);
}

drawPanel(layoutA,panelAHeights,panelARange,panelAColorTicks,panelAZLabels,[panelAPeakX,panelAPeakY,panelAPeakZ],{mounds:[panelABlobX,panelABlobY,panelABlobZ,panelABlobRadius],arcs:[panelAArcX,panelAArcY,panelAArcZ,panelAArcRadius]});
drawPanel(layoutB,panelBHeights,panelBRange,panelBColorTicks,panelBZLabels,[panelBPeakX,panelBPeakY,panelBPeakZ],{stripes:panelBStripeY});
drawPanel(layoutC,panelCHeights,panelCRange,panelCColorTicks,panelCZLabels,[panelCPeakX,panelCPeakY,panelCPeakZ],{mounds:[panelCMoundX,panelCMoundY,panelCMoundZ,panelCMoundRadius],grooves:panelCGrooves});
drawPanel(layoutD,panelDHeights,panelDRange,panelDColorTicks,panelDZLabels,[panelDPeakX,panelDPeakY,panelDPeakZ],{stripes:panelDStripeY});
</script>
</body>
</html>
